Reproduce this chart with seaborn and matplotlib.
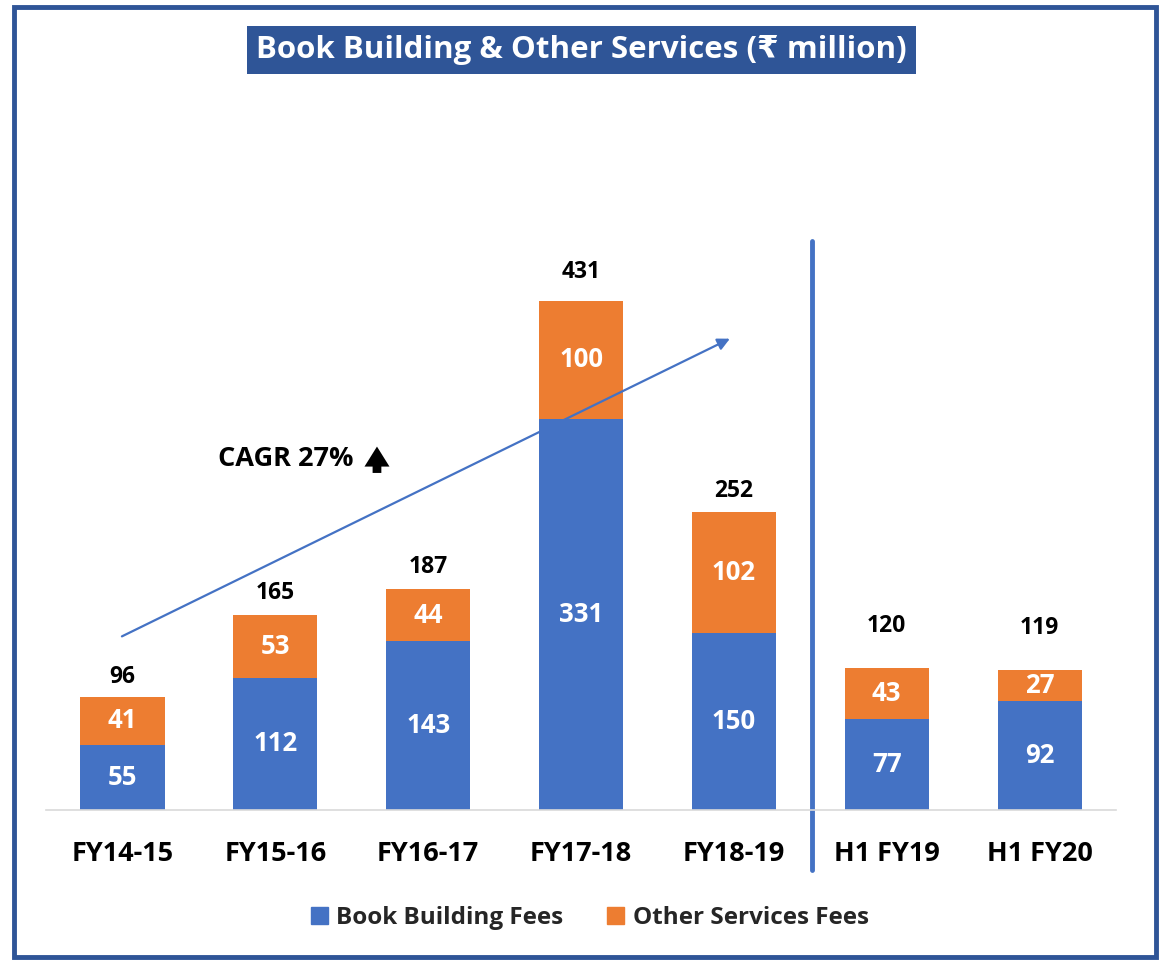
import numpy as np
import pandas as pd
import matplotlib
matplotlib.use("Agg")
import matplotlib.pyplot as plt
from matplotlib.patches import Rectangle
import seaborn as sns

# data
periods = ["FY14-15", "FY15-16", "FY16-17", "FY17-18", "FY18-19", "H1 FY19", "H1 FY20"]
book_building = [55, 112, 143, 331, 150, 77, 92]
other_services = [41, 53, 44, 100, 102, 43, 27]
totals = [96, 165, 187, 431, 252, 120, 119]

BLUE = "#4472C4"
ORANGE = "#ED7D31"
NAVY = "#2F5597"

sns.set_theme(style="white")
plt.rcParams["font.family"] = ["Open Sans", "DejaVu Sans"]
plt.rcParams["font.weight"] = "bold"

df = pd.DataFrame({
    "period": periods,
    "book": book_building,
    "other": other_services,
})
df["total"] = df["book"] + df["other"]

fig = plt.figure(figsize=(11.63, 9.61), dpi=100)
ax = fig.add_axes([0.0396, 0.157, 0.920, 0.739])

# stacked bars: total in orange, book building drawn over it in blue
sns.barplot(data=df, x="period", y="total", color=ORANGE, width=0.55,
            saturation=1, linewidth=0, ax=ax)
sns.barplot(data=df, x="period", y="book", color=BLUE, width=0.55,
            saturation=1, linewidth=0, ax=ax)

ax.set_xlim(-0.5, 6.5)
ax.set_ylim(0, 601)
ax.set_xlabel("")
ax.set_ylabel("")
ax.set_yticks([])
for side in ["top", "right", "left"]:
    ax.spines[side].set_visible(False)
ax.spines["bottom"].set_color("#D9D9D9")
ax.spines["bottom"].set_linewidth(1.2)
ax.tick_params(axis="x", length=0, pad=22, labelsize=19.5)
for lbl in ax.get_xticklabels():
    lbl.set_fontweight("bold")
    lbl.set_color("black")

# segment labels
for i, (b, o) in enumerate(zip(book_building, other_services)):
    ax.text(i, b / 2, f"{b}", ha="center", va="center", color="white",
            fontsize=18.5, fontweight="bold")
    ax.text(i, b + o / 2, f"{o}", ha="center", va="center", color="white",
            fontsize=18.5, fontweight="bold")

# totals above the bars
total_offsets = [20, 22, 22, 29, 21, 42, 42]
for i, (t, off) in enumerate(zip(totals, total_offsets)):
    ax.annotate(f"{t}", xy=(i, t), xytext=(0, off), textcoords="offset pixels",
                ha="center", va="center", fontsize=16.5, fontweight="bold", color="black")

# separator between full years and half years
ax.axvline(4.51, ymin=-0.085, ymax=0.801, color=BLUE, lw=3.5, clip_on=False)

# CAGR trend arrow
ax.annotate("", xy=(3.99, 400), xytext=(-0.02, 146),
            arrowprops=dict(arrowstyle="-|>", color=BLUE, lw=1.6, mutation_scale=18))
ax.text(1.07, 297, "CAGR 27%", ha="center", va="center", fontsize=19.5,
        fontweight="bold", color="black")
ax.annotate("", xy=(1.665, 310), xytext=(1.665, 283),
            arrowprops=dict(arrowstyle="simple,head_width=1.0,head_length=0.8,tail_width=0.35",
                            color="black", lw=0, mutation_scale=18))

# title
fig.text(0.5, 0.948, "Book Building & Other Services (\u20b9 million)", ha="center", va="center",
         fontsize=22.5, fontweight="bold", color="white",
         bbox=dict(boxstyle="square,pad=0.28", facecolor=NAVY, edgecolor="none"))

# legend
handles = [Rectangle((0, 0), 1, 1, color=BLUE), Rectangle((0, 0), 1, 1, color=ORANGE)]
fig.legend(handles, ["Book Building Fees", "Other Services Fees"], loc="center",
           bbox_to_anchor=(0.507, 0.045), ncol=2, frameon=False,
           handlelength=0.7, handleheight=0.7, handletextpad=0.35, columnspacing=1.8,
           prop={"weight": "bold", "size": 17.5})

# outer border
fig.patches.append(Rectangle((0.012, 0.004), 0.982, 0.989, transform=fig.transFigure,
                             fill=False, edgecolor=NAVY, lw=3.5))

fig.savefig("out.png", dpi=100)
